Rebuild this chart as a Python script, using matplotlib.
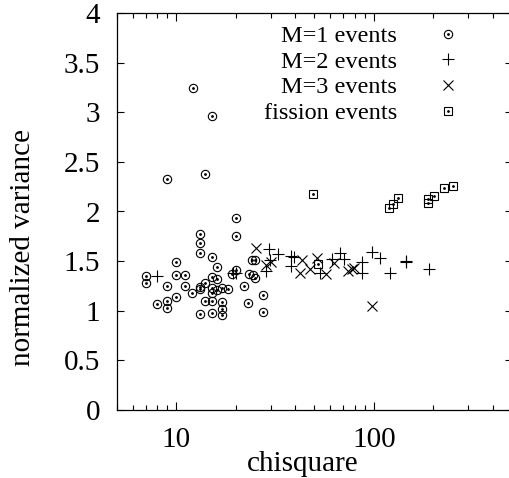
import matplotlib
matplotlib.use("Agg")
import matplotlib.pyplot as plt
from matplotlib.ticker import LogLocator, FixedLocator, NullFormatter

plt.rcParams.update({"font.family": ["Liberation Serif", "DejaVu Serif"], "font.size": 21,
                     "axes.linewidth": 0.9, "lines.linewidth": 0.8})

# M=1 events (circle with dot)
m1_x = [7.0, 7.0, 8.0, 9.0, 9.0, 9.0, 10.0, 10.0, 10.0, 11.1, 11.1, 12.0, 13.1, 13.1, 13.1, 13.1,
        13.1, 13.1, 14.0, 14.0, 15.1, 15.1, 15.1, 15.1, 15.1, 15.1, 16.1, 16.1, 16.1, 17.1, 17.1,
        17.1, 17.1, 18.2, 20.1, 20.1, 20.1, 19.2, 22.1, 23.2, 23.0, 24.4, 25.0, 24.1, 25.0, 27.4,
        27.4, 12.1, 15.1, 9.0, 14.0]
m1_y = [1.35, 1.28, 1.065, 1.25, 1.10, 1.03, 1.49, 1.36, 1.14, 1.36, 1.25, 1.18, 1.77, 1.68, 1.58,
        1.24, 1.22, 0.97, 1.10, 1.28, 1.54, 1.34, 1.23, 1.18, 1.10, 0.98, 1.44, 1.32, 1.21, 1.23,
        1.09, 1.02, 0.96, 1.22, 1.93, 1.75, 1.41, 1.37, 1.25, 1.37, 1.08, 1.36, 1.33, 1.51, 1.51,
        1.16, 0.99, 3.24, 2.96, 2.33, 2.38]

# M=2 events (plus)
m2_x = [8.0, 19.4, 20.1, 29.4, 32.7, 29.9, 28.3, 38.2, 39.5, 38.2, 53.2, 61.0, 67.1, 70.7, 86.5,
        86.5, 98.0, 107.0, 120.5, 145.0, 146.0, 191.0]
m2_y = [1.35, 1.38, 1.38, 1.62, 1.57, 1.51, 1.40, 1.55, 1.54, 1.45, 1.38, 1.52, 1.58, 1.52, 1.49,
        1.38, 1.59, 1.53, 1.38, 1.50, 1.49, 1.42]

# M=3 events (cross)
m3_x = [25.2, 28.5, 30.2, 43.0, 42.0, 47.3, 51.5, 57.5, 62.8, 74.2, 77.0, 79.0, 97.2]
m3_y = [1.63, 1.46, 1.49, 1.51, 1.38, 1.42, 1.53, 1.37, 1.48, 1.40, 1.42, 1.43, 1.05]

# fission events (square with dot)
fi_x = [49.2, 52.0, 119.8, 125.4, 132.0, 188.0, 188.0, 202.0, 225.0, 251.0]
fi_y = [2.18, 1.47, 2.04, 2.08, 2.14, 2.13, 2.09, 2.16, 2.24, 2.26]

fig = plt.figure(figsize=(5.09, 4.78), dpi=100)
ax = fig.add_axes([117 / 509, 68 / 478, 395 / 509, 397 / 478])
k = dict(color="black", linestyle="none", markerfacecolor="none", markeredgewidth=0.8)
dot = dict(color="black", linestyle="none", marker="o", markersize=1.0)
c1, = ax.plot(m1_x, m1_y, marker="o", markersize=6, **k)
d1, = ax.plot(m1_x, m1_y, **dot)
p2, = ax.plot(m2_x, m2_y, marker="+", markersize=8, **k)
p3, = ax.plot(m3_x, m3_y, marker="x", markersize=6.5, **k)
s4, = ax.plot(fi_x, fi_y, marker="s", markersize=6, **k)
d4, = ax.plot(fi_x, fi_y, **dot)

ax.set_xscale("log")
ax.set_xlim(5, 500)
ax.set_ylim(0, 4)
ax.set_yticks([0, 0.5, 1, 1.5, 2, 2.5, 3, 3.5, 4])
ax.set_yticklabels(["0", "0.5", "1", "1.5", "2", "2.5", "3", "3.5", "4"])
ax.xaxis.set_major_locator(FixedLocator([10, 100]))
ax.set_xticklabels(["10", "100"])
ax.xaxis.set_minor_locator(LogLocator(base=10, subs=range(2, 10)))
ax.xaxis.set_minor_formatter(NullFormatter())
ax.tick_params(which="both", direction="in", top=True, right=True, width=0.8)
ax.tick_params(axis="y", which="major", length=5, pad=12)
ax.tick_params(axis="x", which="major", length=6, pad=12)
ax.tick_params(axis="x", which="minor", length=3.5)
ax.set_xlabel("chisquare")
ax.xaxis.set_label_coords(0.47, -0.103)
ax.set_ylabel("normalized variance")
ax.yaxis.set_label_coords(-0.205, 0.41)

leg = ax.legend([(c1, d1), p2, p3, (s4, d4)],
                ["M=1 events", "M=2 events", "M=3 events", "fission events"],
                loc="upper right", bbox_to_anchor=(0.9, 1.0), frameon=False, markerfirst=False,
                fontsize=17.5, handlelength=1.0, handletextpad=1.6, labelspacing=0.15,
                borderaxespad=0.1)
for col in leg._legend_box._children[-1]._children:
    col.align = "right"

fig.savefig("out.png", dpi=100)
